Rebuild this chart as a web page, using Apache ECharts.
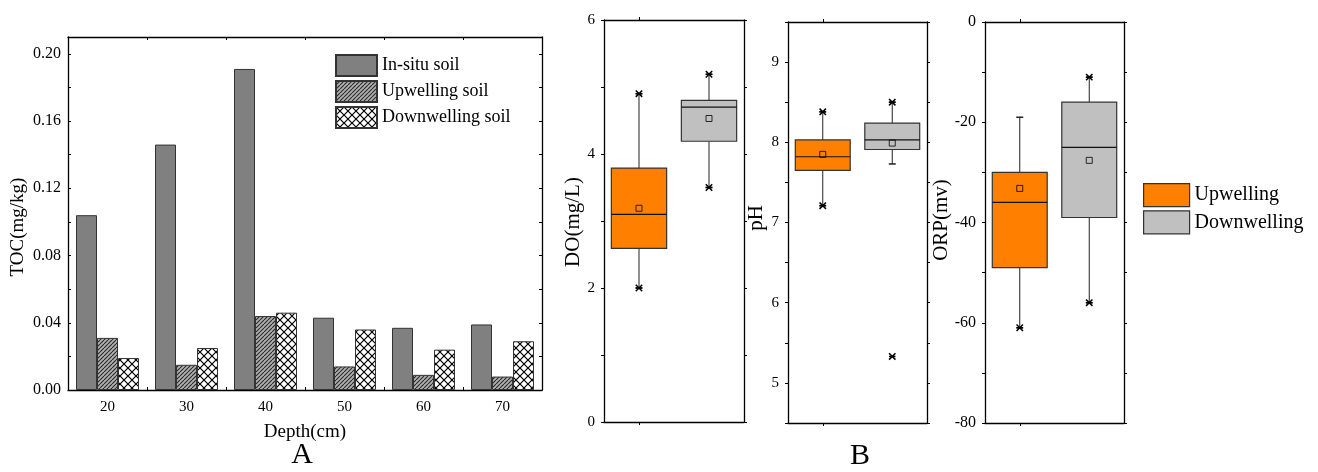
<!DOCTYPE html>
<html>
<head>
<meta charset="utf-8">
<script src="https://cdn.jsdelivr.net/npm/echarts@6/dist/echarts.min.js"></script>
<style>
  html, body { margin: 0; padding: 0; background: #fff; }
  #chart { width: 1318px; height: 472px; }
</style>
</head>
<body>
<div id="chart"></div>
<script>
// ---------- Panel A data ----------
const depthCats = ['20', '30', '40', '50', '60', '70'];
const inSituSoil = [0.104, 0.146, 0.191, 0.043, 0.037, 0.039];
const upwellingSoil = [0.031, 0.015, 0.044, 0.014, 0.009, 0.008];
const downwellingSoil = [0.019, 0.025, 0.046, 0.036, 0.024, 0.029];
const barSeriesNames = ['In-situ soil', 'Upwelling soil', 'Downwelling soil'];

// ---------- Panel B data ----------
const boxCats = ['Upwelling', 'Downwelling'];
// [lower whisker, Q1, median, Q3, upper whisker]
const doUpBox = [2.0, 2.59, 3.10, 3.79, 4.90];
const doDownBox = [3.50, 4.19, 4.70, 4.80, 5.19];
const doMeans = [3.19, 4.53];
const doStars = [[0, 2.0], [0, 4.90], [1, 3.50], [1, 5.19]];

const phUpBox = [7.21, 7.65, 7.82, 8.03, 8.38];
const phDownBox = [7.73, 7.91, 8.03, 8.24, 8.50];
const phMeans = [7.85, 7.99];
const phStars = [[0, 7.21], [0, 8.38], [1, 8.50], [1, 5.33]];

const orpUpBox = [-61, -49, -36, -30, -19];
const orpDownBox = [-56, -39, -25, -16, -11];
const orpMeans = [-33.2, -27.6];
const orpStars = [[0, -61], [1, -56], [1, -11]];

const FONT = 'Liberation Serif';
const UP_COLOR = '#FF7F00';
const DOWN_COLOR = '#C0C0C0';

// ---------- patterns ----------
function hatchPattern() {
  const c = document.createElement('canvas');
  c.width = 4; c.height = 4;
  const g = c.getContext('2d');
  g.fillStyle = '#B0B0B0';
  g.fillRect(0, 0, 4, 4);
  g.strokeStyle = '#2a2a2a';
  g.lineWidth = 1.1;
  g.beginPath();
  for (let k = -4; k <= 8; k += 4) {
    g.moveTo(k, 4); g.lineTo(k + 4, 0);
  }
  g.stroke();
  return c;
}
function crossPattern() {
  const n = 8;
  const c = document.createElement('canvas');
  c.width = n; c.height = n;
  const g = c.getContext('2d');
  g.fillStyle = '#fff';
  g.fillRect(0, 0, n, n);
  g.strokeStyle = '#000';
  g.lineWidth = 1.2;
  g.beginPath();
  g.moveTo(0, 0); g.lineTo(n, n);
  g.moveTo(0, n); g.lineTo(n, 0);
  g.stroke();
  return c;
}

const chart = echarts.init(document.getElementById('chart'), null, { renderer: 'canvas' });

// ---------- axis helpers ----------
function xCat(gridIndex, data, position, opts) {
  opts = opts || {};
  return {
    type: 'category', gridIndex, data, position,
    boundaryGap: true,
    axisLine: { show: true, onZero: false, lineStyle: { color: '#000', width: 1.3 } },
    axisTick: { show: true, inside: !!opts.inside, length: 3, alignWithLabel: !!opts.align, lineStyle: { color: '#000' } },
    axisLabel: { show: position === 'bottom' && !opts.noLabel, color: '#000', fontFamily: FONT, fontSize: 15, margin: 10 },
    splitLine: { show: false }
  };
}
function yVal(gridIndex, position, min, max, interval, fmt, opts) {
  opts = opts || {};
  return {
    type: 'value', gridIndex, position, min, max, interval,
    axisLine: { show: true, onZero: false, lineStyle: { color: '#000', width: 1.3 } },
    axisTick: { show: true, inside: !!opts.inside, length: 3, lineStyle: { color: '#000' } },
    axisLabel: { show: position === 'left', color: '#000', fontFamily: FONT, fontSize: opts.fontSize || 15, margin: opts.margin || 8, formatter: fmt },
    splitLine: { show: false }
  };
}

const tocFmt = v => (Math.round(v * 100) % 4 === 0 ? v.toFixed(2) : '');
const evenFmt = v => (Math.round(v) % 2 === 0 ? String(v) : '');
const intFmt = v => (Math.abs(v - Math.round(v)) < 1e-6 ? String(Math.round(v)) : '');
const twentyFmt = v => (Math.round(v) % 20 === 0 ? String(Math.round(v)) : '');

// ---------- box renderers ----------
function boxRender(params, api) {
  const cat = api.value(0);
  const low = api.coord([cat, api.value(1)]);
  const q1 = api.coord([cat, api.value(2)]);
  const med = api.coord([cat, api.value(3)]);
  const q3 = api.coord([cat, api.value(4)]);
  const high = api.coord([cat, api.value(5)]);
  const bw = api.size([1, 0])[0] * 0.79;
  const x = med[0];
  const cap = 3.5;
  const lineStyle = { stroke: '#222', lineWidth: 1 };
  return {
    type: 'group',
    children: [
      { type: 'line', shape: { x1: x, y1: q3[1], x2: x, y2: high[1] }, style: lineStyle },
      { type: 'line', shape: { x1: x, y1: q1[1], x2: x, y2: low[1] }, style: lineStyle },
      { type: 'line', shape: { x1: x - cap, y1: high[1], x2: x + cap, y2: high[1] }, style: { stroke: '#222', lineWidth: 1.5 } },
      { type: 'line', shape: { x1: x - cap, y1: low[1], x2: x + cap, y2: low[1] }, style: { stroke: '#222', lineWidth: 1.5 } },
      { type: 'rect', shape: { x: x - bw / 2, y: q3[1], width: bw, height: q1[1] - q3[1] },
        style: { fill: api.visual('color'), stroke: '#333', lineWidth: 1.2 } },
      { type: 'line', shape: { x1: x - bw / 2, y1: med[1], x2: x + bw / 2, y2: med[1] }, style: { stroke: '#111', lineWidth: 1.2 } }
    ]
  };
}
function starRender(params, api) {
  const p = api.coord([api.value(0), api.value(1)]);
  const s = 3.2;
  const st = { stroke: '#000', lineWidth: 1.5 };
  return {
    type: 'group',
    children: [
      { type: 'line', shape: { x1: p[0] - s, y1: p[1] - s, x2: p[0] + s, y2: p[1] + s }, style: st },
      { type: 'line', shape: { x1: p[0] - s, y1: p[1] + s, x2: p[0] + s, y2: p[1] - s }, style: st },
      { type: 'line', shape: { x1: p[0] - s, y1: p[1], x2: p[0] + s, y2: p[1] }, style: st }
    ]
  };
}

function boxSeries(axisIdx, upBox, downBox, means, stars) {
  return [
    { type: 'custom', name: 'Upwelling', xAxisIndex: axisIdx, yAxisIndex: axisIdx,
      itemStyle: { color: UP_COLOR, borderColor: '#333', borderWidth: 1 },
      renderItem: boxRender, encode: { x: 0, y: [1, 2, 3, 4, 5] },
      data: [[0].concat(upBox)] },
    { type: 'custom', name: 'Downwelling', xAxisIndex: axisIdx, yAxisIndex: axisIdx,
      itemStyle: { color: DOWN_COLOR, borderColor: '#333', borderWidth: 1 },
      renderItem: boxRender, encode: { x: 0, y: [1, 2, 3, 4, 5] },
      data: [[1].concat(downBox)] },
    { type: 'scatter', name: 'mean', xAxisIndex: axisIdx, yAxisIndex: axisIdx,
      symbol: 'rect', symbolSize: 6,
      itemStyle: { color: 'rgba(0,0,0,0)', borderColor: '#000', borderWidth: 1 },
      data: means.map((m, i) => [i, m]), z: 5 },
    { type: 'custom', name: 'extremes', xAxisIndex: axisIdx, yAxisIndex: axisIdx,
      renderItem: starRender, encode: { x: 0, y: 1 }, data: stars, z: 6 }
  ];
}

const option = {
  animation: false,
  backgroundColor: '#fff',
  textStyle: { fontFamily: FONT, color: '#000' },
  grid: [
    { left: 68, top: 37, width: 474, height: 353 },
    { left: 604, top: 20, width: 140, height: 402 },
    { left: 788, top: 22, width: 139, height: 401 },
    { left: 985, top: 22, width: 139, height: 401 }
  ],
  xAxis: [
    xCat(0, depthCats, 'bottom', { inside: true }),
    xCat(0, depthCats, 'top', { inside: true }),
    xCat(1, boxCats, 'bottom', { align: true, noLabel: true }),
    xCat(1, boxCats, 'top', { align: true }),
    xCat(2, boxCats, 'bottom', { align: true, noLabel: true }),
    xCat(2, boxCats, 'top', { align: true }),
    xCat(3, boxCats, 'bottom', { align: true, noLabel: true }),
    xCat(3, boxCats, 'top', { align: true })
  ],
  yAxis: [
    yVal(0, 'left', 0, 0.21, 0.02, tocFmt, { inside: true, fontSize: 16, margin: 7 }),
    yVal(0, 'right', 0, 0.21, 0.02, tocFmt, { inside: true }),
    yVal(1, 'left', 0, 6, 1, evenFmt, { margin: 9 }),
    yVal(1, 'right', 0, 6, 1, evenFmt),
    yVal(2, 'left', 4.5, 9.5, 0.5, intFmt, { margin: 9 }),
    yVal(2, 'right', 4.5, 9.5, 0.5, intFmt),
    yVal(3, 'left', -80, 0, 10, twentyFmt, { margin: 9, fontSize: 16 }),
    yVal(3, 'right', -80, 0, 10, twentyFmt)
  ],
  legend: [
    {
      data: barSeriesNames, orient: 'vertical', left: 335, top: 54, padding: 0,
      itemWidth: 41, itemHeight: 21, itemGap: 3, icon: 'rect',
      textStyle: { fontFamily: FONT, fontSize: 18, color: '#000' },
      selectedMode: false
    },
    {
      data: boxCats, orient: 'vertical', left: 1143, top: 183, padding: 0,
      itemWidth: 46, itemHeight: 23, itemGap: 3, icon: 'rect',
      textStyle: { fontFamily: FONT, fontSize: 20, color: '#000' },
      itemStyle: { borderColor: '#333', borderWidth: 1.2 },
      selectedMode: false
    }
  ],
  series: [
    { type: 'bar', name: barSeriesNames[0], xAxisIndex: 0, yAxisIndex: 0, data: inSituSoil,
      barWidth: 21, barGap: '0%',
      itemStyle: { color: '#808080', borderColor: '#333', borderWidth: 1 } },
    { type: 'bar', name: barSeriesNames[1], xAxisIndex: 0, yAxisIndex: 0, data: upwellingSoil,
      barWidth: 21, barGap: '0%',
      itemStyle: { color: { image: hatchPattern(), repeat: 'repeat' }, borderColor: '#333', borderWidth: 1 } },
    { type: 'bar', name: barSeriesNames[2], xAxisIndex: 0, yAxisIndex: 0, data: downwellingSoil,
      barWidth: 21, barGap: '0%',
      itemStyle: { color: { image: crossPattern(), repeat: 'repeat' }, borderColor: '#333', borderWidth: 1 } }
  ]
    .concat(boxSeries(2, doUpBox, doDownBox, doMeans, doStars))
    .concat(boxSeries(4, phUpBox, phDownBox, phMeans, phStars))
    .concat(boxSeries(6, orpUpBox, orpDownBox, orpMeans, orpStars)),
  graphic: [
    { type: 'text', x: 18, y: 227, rotation: Math.PI / 2,
      style: { text: 'TOC(mg/kg)', font: '19px "Liberation Serif"', fill: '#000', textAlign: 'center', textVerticalAlign: 'middle' } },
    { type: 'text', x: 305, y: 432,
      style: { text: 'Depth(cm)', font: '19px "Liberation Serif"', fill: '#000', textAlign: 'center', textVerticalAlign: 'middle' } },
    { type: 'text', x: 302, y: 455,
      style: { text: 'A', font: '30px "Liberation Serif"', fill: '#000', textAlign: 'center', textVerticalAlign: 'middle' } },
    { type: 'text', x: 573, y: 222, rotation: Math.PI / 2,
      style: { text: 'DO(mg/L)', font: '21px "Liberation Serif"', fill: '#000', textAlign: 'center', textVerticalAlign: 'middle' } },
    { type: 'text', x: 756, y: 218, rotation: Math.PI / 2,
      style: { text: 'pH', font: '21px "Liberation Serif"', fill: '#000', textAlign: 'center', textVerticalAlign: 'middle' } },
    { type: 'text', x: 941, y: 220, rotation: Math.PI / 2,
      style: { text: 'ORP(mv)', font: '21px "Liberation Serif"', fill: '#000', textAlign: 'center', textVerticalAlign: 'middle' } },
    { type: 'text', x: 860, y: 456,
      style: { text: 'B', font: '30px "Liberation Serif"', fill: '#000', textAlign: 'center', textVerticalAlign: 'middle' } }
  ]
};

chart.setOption(option);
</script>
</body>
</html>
